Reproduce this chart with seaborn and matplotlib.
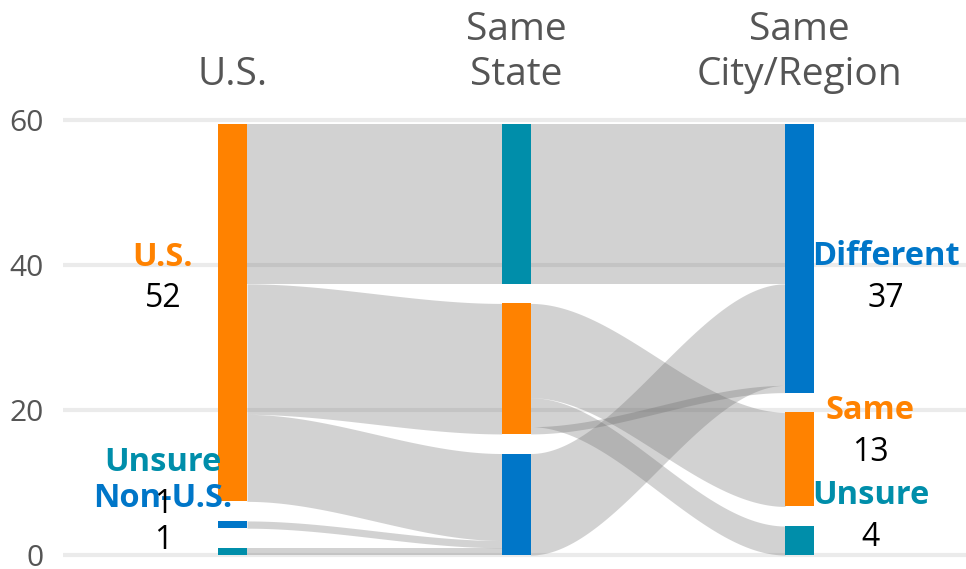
import numpy as np
import matplotlib
matplotlib.use("Agg")
import matplotlib.pyplot as plt
import seaborn as sns

# column headings
stages = ["U.S.", "Same\nState", "Same\nCity/Region"]

# nodes of each column, top to bottom
stage1_names = ["U.S.", "Non-U.S.", "Unsure"]
stage1_counts = [52, 1, 1]
stage2_names = ["Unsure", "Same", "Different"]
stage2_counts = [22, 18, 14]
stage3_names = ["Different", "Same", "Unsure"]
stage3_counts = [37, 13, 4]

# flows column 1 -> column 2
flow12_src = ["U.S.", "U.S.", "U.S.", "Non-U.S.", "Unsure"]
flow12_dst = ["Unsure", "Same", "Different", "Different", "Different"]
flow12_val = [22, 18, 12, 1, 1]
# flows column 2 -> column 3
flow23_src = ["Unsure", "Same", "Same", "Different", "Same"]
flow23_dst = ["Different", "Same", "Unsure", "Different", "Different"]
flow23_val = [22, 13, 4, 14, 1]

yticks = [0, 20, 40, 60]

colors = {"U.S.": "#ff8200", "Same": "#ff8200",
          "Non-U.S.": "#0076c8", "Different": "#0076c8",
          "Unsure": "#008eaa"}

GAP = 2.7
NODE_W = 0.102

sns.set_theme(style="whitegrid", rc={"grid.color": "#ebebeb", "grid.linewidth": 3})
plt.rcParams["font.family"] = ["Open Sans", "DejaVu Sans"]

fig = plt.figure(figsize=(9.66, 5.69), dpi=100)
ax = fig.add_axes([63 / 966, 0.00545, 903 / 966, 0.8092])


def layout(names, counts):
    # stack nodes from the top so the lowest one sits on 0
    top = sum(counts) + GAP * (len(counts) - 1)
    pos = {}
    for n, c in zip(names, counts):
        pos[n] = top
        top -= c + GAP
    return pos


cols = [(stage1_names, stage1_counts), (stage2_names, stage2_counts), (stage3_names, stage3_counts)]
pos = [layout(n, c) for n, c in cols]

t = np.linspace(0, 1, 120)
s = 3 * t**2 - 2 * t**3
src_out = [dict(d) for d in pos]
dst_in = [dict(d) for d in pos]
for i, (src, dst, val) in enumerate([(flow12_src, flow12_dst, flow12_val),
                                     (flow23_src, flow23_dst, flow23_val)]):
    x0, x1 = i + NODE_W / 2, i + 1 - NODE_W / 2
    xs = x0 + (x1 - x0) * t
    for a, b, v in zip(src, dst, val):
        ya = src_out[i][a]
        yb = dst_in[i + 1][b]
        top = ya + (yb - ya) * s
        ax.fill_between(xs, top - v, top, color="#6c6c6c", alpha=0.3, lw=0, zorder=2)
        src_out[i][a] -= v
        dst_in[i + 1][b] -= v

for i, (names, counts) in enumerate(cols):
    tops = [pos[i][n] for n in names]
    ax.bar([i] * len(names), counts, bottom=np.array(tops) - np.array(counts),
           width=NODE_W, color=[colors[n] for n in names], lw=0, zorder=3)

# node labels (first and last column only)
lab1_x = [-0.246, -0.246, -0.246]
lab1_y = [39.9, 6.6, 11.55]
lab3_x = [2.303, 2.25, 2.25]
lab3_y = [40.0, 18.7, 7.0]
for names, counts, xs, ys in [(stage1_names, stage1_counts, lab1_x, lab1_y),
                              (stage3_names, stage3_counts, lab3_x, lab3_y)]:
    for n, c, x, y in zip(names, counts, xs, ys):
        ax.text(x, y, n, color=colors[n], fontsize=23.5, fontweight="bold",
                ha="center", va="baseline", zorder=5)
        ax.text(x, y - 5.75, str(c), color="black", fontsize=23,
                ha="center", va="baseline", zorder=5)

for i, name in enumerate(stages):
    ax.text(i, 63.6, name, color="#555555", fontsize=28, ha="center", va="bottom",
            linespacing=1.22, clip_on=False)

ax.set_xlim(-0.598, 2.587)
ax.set_ylim(-1.5, 62)
ax.set_yticks(yticks)
ax.set_xticks([])
ax.grid(axis="x", visible=False)
ax.tick_params(axis="y", length=0, pad=14, labelsize=21.5, labelcolor="#555555")
sns.despine(ax=ax, left=True, bottom=True)
ax.set_facecolor("white")

fig.savefig("out.png", dpi=100)
